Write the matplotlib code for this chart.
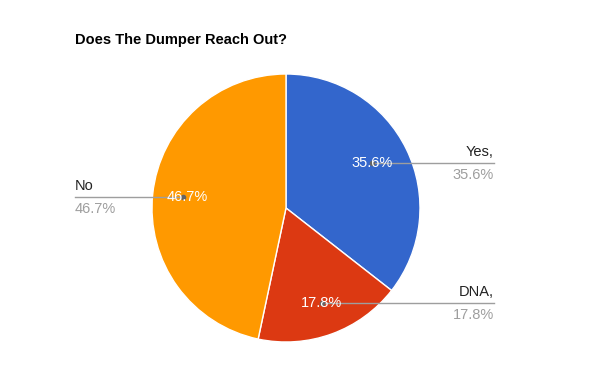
import matplotlib
matplotlib.use('Agg')
import matplotlib.pyplot as plt

categories = ['Yes,', 'DNA,', 'No']
counts = [16, 8, 21]
pct_labels = ['35.6%', '17.8%', '46.7%']
colors = ['#3366cc', '#dc3912', '#ff9900']

plt.rcParams['font.family'] = ['Liberation Sans', 'DejaVu Sans']

W, H = 600, 383
fig = plt.figure(figsize=(W / 100, H / 100), dpi=100)
ax = fig.add_axes([0, 0, 1, 1])

cx, cy, r = 286, H - 208, 134
wedges, texts, autotexts = ax.pie(
    counts, colors=colors, startangle=90, counterclock=False,
    center=(cx, cy), radius=r, autopct=lambda p: '', pctdistance=0.72,
    wedgeprops=dict(edgecolor='white', linewidth=1))

ax.set_xlim(0, W)
ax.set_ylim(0, H)
ax.set_aspect('equal')
ax.axis('off')

# positions (pixels, top-left origin) of inner labels and outside labels
inner_pos = [(372, 163), (322, 303), (187, 197)]
line_end_x = [494, 494, 75]
side = ['right', 'right', 'left']

for i, (name, pct) in enumerate(zip(categories, pct_labels)):
    px, py = inner_pos[i]
    y = H - py
    ax.plot([px if side[i] == 'right' else px - 4, line_end_x[i]], [y, y],
            color='#9e9e9e', lw=1, zorder=3)
    ax.plot([px if side[i] == 'right' else px - 4], [y], 'o', ms=3,
            color='#666666', zorder=4)
    ax.text(px, y, pct, color='white', fontsize=10.5, ha='center',
            va='center', zorder=5)
    ax.text(line_end_x[i], y + 4, name, color='#222222', fontsize=10.5,
            ha=side[i], va='bottom')
    ax.text(line_end_x[i], y - 5, pct, color='#9e9e9e', fontsize=10.5,
            ha=side[i], va='top')

fig.text(75 / W, 1 - 40 / H, 'Does The Dumper Reach Out?', fontsize=10.5,
         fontweight='bold', ha='left', va='center', color='#000000')

fig.savefig('out.png', dpi=100, facecolor='white')
